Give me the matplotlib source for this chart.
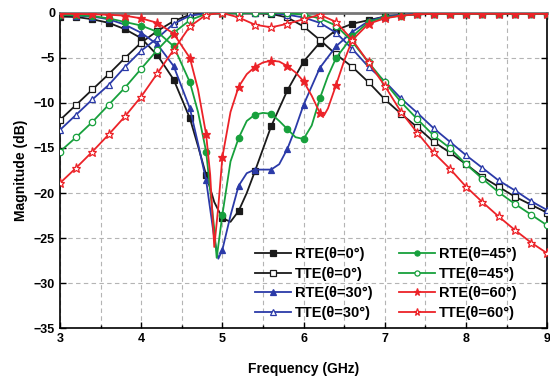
import numpy as np
import matplotlib
matplotlib.use('Agg')
from matplotlib import pyplot as plt

plt.rcParams['font.family'] = ['Liberation Sans', 'DejaVu Sans']
plt.rcParams['font.weight'] = 'bold'

# transmission curves, sampled every 0.2 GHz
x_t = [3.0, 3.2, 3.4, 3.6, 3.8, 4.0, 4.2, 4.4, 4.6, 4.8, 5.0, 5.2, 5.4, 5.6, 5.8, 6.0,
       6.2, 6.4, 6.6, 6.8, 7.0, 7.2, 7.4, 7.6, 7.8, 8.0, 8.2, 8.4, 8.6, 8.8, 9.0]
tte_0 = [-11.9, -10.2, -8.5, -6.8, -5.0, -3.3, -2.0, -0.9, -0.2, -0.05, 0, 0, 0, -0.1, -0.5, -1.5,
         -3.0, -4.6, -6.0, -7.7, -9.6, -11.2, -12.7, -14.3, -15.5, -16.8, -18.2, -19.3, -20.4, -21.3, -22.2]
tte_30 = [-13.0, -11.3, -9.6, -8.0, -6.0, -4.2, -2.8, -1.2, -0.3, -0.05, 0, 0, 0, 0, -0.2, -0.5,
          -1.1, -2.2, -4.0, -6.0, -7.6, -9.5, -11.1, -12.8, -14.3, -15.8, -17.2, -18.6, -19.7, -20.9, -21.9]
tte_45 = [-15.4, -13.8, -12.1, -10.2, -8.3, -6.2, -4.1, -2.2, -0.8, -0.1, 0, 0, 0, 0, 0, -0.2,
          -0.6, -1.4, -3.2, -5.5, -7.7, -9.9, -11.8, -13.6, -15.0, -16.8, -18.4, -19.9, -21.2, -22.4, -23.6]
tte_60 = [-18.9, -17.2, -15.4, -13.5, -11.5, -9.3, -6.7, -4.1, -1.5, -0.2, 0, -0.5, -1.3, -1.6, -1.2, -0.7,
          -0.2, -1.0, -3.0, -5.5, -8.1, -11.0, -13.3, -15.5, -17.3, -19.3, -21.0, -22.6, -24.1, -25.5, -26.7]

# reflection curves, denser near the resonances
x_r0 = [3.0, 3.2, 3.4, 3.6, 3.8, 4.0, 4.2, 4.4, 4.6, 4.7, 4.8, 4.9, 5.0, 5.1, 5.2, 5.3, 5.4, 5.5, 5.6,
        5.8, 6.0, 6.2, 6.4, 6.6, 6.8, 7.0, 7.2, 7.4, 7.6, 7.8, 8.0, 8.2, 8.4, 8.6, 8.8, 9.0]
rte_0 = [-0.4, -0.45, -0.7, -1.1, -1.8, -2.8, -4.7, -7.4, -11.7, -14.8, -18.0, -21.0, -22.8, -23.2, -22.0,
         -20.0, -17.6, -15.1, -12.6, -8.6, -5.4, -3.3, -1.9, -1.2, -0.8, -0.4, -0.25, -0.15, -0.1, -0.1,
         -0.1, -0.1, -0.1, -0.1, -0.1, -0.1]

x_r30 = [3.0, 3.2, 3.4, 3.6, 3.8, 4.0, 4.2, 4.4, 4.6, 4.7, 4.8, 4.9, 4.95, 5.0, 5.1, 5.2, 5.3, 5.4, 5.5,
         5.6, 5.7, 5.8, 5.9, 6.0, 6.2, 6.4, 6.6, 6.8, 7.0, 7.2, 7.4, 7.6, 7.8, 8.0, 8.2, 8.4, 8.6, 8.8, 9.0]
rte_30 = [-0.2, -0.3, -0.4, -0.7, -1.3, -2.2, -3.5, -5.9, -10.6, -14.5, -18.6, -25.0, -27.3, -26.3, -22.5,
          -19.2, -17.8, -17.4, -17.4, -17.4, -16.8, -15.1, -12.8, -10.2, -6.1, -3.7, -2.1, -0.9, -0.4,
          -0.2, -0.15, -0.1, -0.1, -0.1, -0.1, -0.1, -0.1, -0.1, -0.1]

x_r45 = [3.0, 3.2, 3.4, 3.6, 3.8, 4.0, 4.2, 4.4, 4.6, 4.7, 4.8, 4.9, 4.93, 5.0, 5.1, 5.2, 5.3, 5.4, 5.5,
         5.6, 5.7, 5.8, 5.9, 6.0, 6.1, 6.2, 6.3, 6.4, 6.6, 6.8, 7.0, 7.2, 7.4, 7.6, 7.8, 8.0, 8.2, 8.4,
         8.6, 8.8, 9.0]
rte_45 = [-0.2, -0.25, -0.35, -0.6, -1.0, -1.4, -2.1, -3.7, -7.7, -11.0, -15.4, -24.0, -27.2, -22.4, -16.5,
          -13.9, -12.0, -11.3, -11.1, -11.2, -12.0, -12.9, -13.8, -14.0, -12.5, -9.5, -7.0, -5.0, -2.6,
          -1.0, -0.5, -0.3, -0.15, -0.1, -0.1, -0.1, -0.1, -0.1, -0.1, -0.1, -0.1]

x_r60 = [3.0, 3.2, 3.4, 3.6, 3.8, 4.0, 4.2, 4.4, 4.6, 4.7, 4.8, 4.85, 4.9, 4.95, 5.0, 5.1, 5.2, 5.3, 5.4,
         5.5, 5.6, 5.7, 5.8, 5.9, 6.0, 6.1, 6.2, 6.25, 6.3, 6.4, 6.5, 6.6, 6.8, 7.0, 7.2, 7.4, 7.6, 7.8,
         8.0, 8.2, 8.4, 8.6, 8.8, 9.0]
rte_60 = [-0.1, -0.1, -0.15, -0.2, -0.3, -0.6, -1.1, -2.3, -5.0, -8.5, -13.5, -18.0, -26.0, -21.5, -16.0,
          -11.0, -8.2, -6.8, -6.0, -5.5, -5.3, -5.4, -5.9, -6.6, -7.6, -9.2, -11.1, -11.4, -10.6, -8.0,
          -5.3, -3.0, -1.2, -0.6, -0.3, -0.15, -0.1, -0.1, -0.1, -0.1, -0.1, -0.1, -0.1, -0.1]

black = '#1a1a1a'
blue = '#2b3aa8'
green = '#17a03c'
red = '#ec2228'


def on_grid(x):
    x = np.asarray(x) * 5
    return list(np.isclose(x, np.round(x)))


fig = plt.figure(figsize=(5.5, 3.81), dpi=100)
ax = fig.add_axes([0.109, 0.139, 0.886, 0.827])

series = [
    (x_r0, rte_0, black, 's', True, 'RTE(θ=0°)'),
    (x_t, tte_0, black, 's', False, 'TTE(θ=0°)'),
    (x_r30, rte_30, blue, '^', True, 'RTE(θ=30°)'),
    (x_t, tte_30, blue, '^', False, 'TTE(θ=30°)'),
    (x_r45, rte_45, green, 'o', True, 'RTE(θ=45°)'),
    (x_t, tte_45, green, 'o', False, 'TTE(θ=45°)'),
    (x_r60, rte_60, red, '*', True, 'RTE(θ=60°)'),
    (x_t, tte_60, red, '*', False, 'TTE(θ=60°)'),
]

lines = []
for x, y, c, m, filled, lab in series:
    ms = 6.5 if m == '*' else 4.6
    ln, = ax.plot(x, y, color=c, lw=1.3, marker=m, markersize=ms, markevery=on_grid(x),
                  markerfacecolor=c if filled else 'white', markeredgecolor=c,
                  markeredgewidth=0.9, label=lab, zorder=3)
    lines.append(ln)

ax.set_xlim(3, 9)
ax.set_ylim(-35, 0)
ax.set_xticks(range(3, 10))
ax.set_xticks(np.arange(3.5, 9, 1.0), minor=True)
ax.set_yticks(range(-35, 1, 5))
ax.tick_params(which='both', direction='in', top=True, right=True, labelsize=9)
ax.tick_params(which='major', length=4, width=1)
ax.tick_params(which='minor', length=2.5, width=1)
ax.grid(True, which='both', axis='x', ls=(0, (4, 3)), color='#b4b4b4', lw=0.8)
ax.grid(True, which='major', axis='y', ls=(0, (4, 3)), color='#b4b4b4', lw=0.8)
for s in ax.spines.values():
    s.set_linewidth(1.2)
ax.spines['top'].set_color('#777777')
ax.spines['top'].set_linewidth(2)

ax.set_xlabel('Frequency (GHz)', fontsize=10, fontweight='bold', labelpad=12)
ax.set_ylabel('Magnitude (dB)', fontsize=10, fontweight='bold', labelpad=4)

ax.legend(handles=lines, ncol=2, loc='upper left', bbox_to_anchor=(0.40, 0.256),
          frameon=False, handlelength=2.5, columnspacing=1.8, markerscale=0.8,
          handletextpad=0.25, labelspacing=0.38, borderpad=0, borderaxespad=0,
          prop={'weight': 'bold', 'size': 10.5})

fig.savefig('out.png', dpi=100)
